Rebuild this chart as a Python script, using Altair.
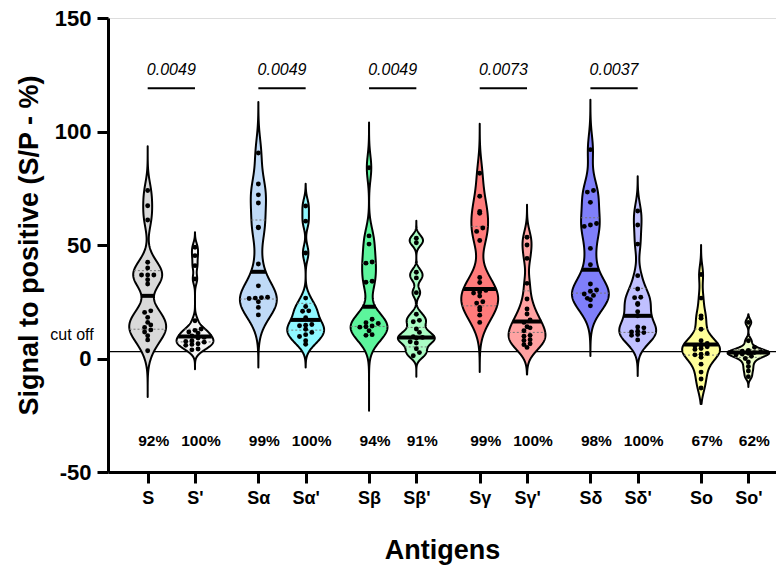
import json
import altair as alt
import pandas as pd

# ---------------- data ----------------
GROUPS = ["S", "S'", "Sα", "Sα'", "Sβ", "Sβ'", "Sγ", "Sγ'", "Sδ", "Sδ'", "So", "So'"]

S_VALUES = [74.0, 67.3, 61.0, 42.4, 39.9, 36.8, 36.8, 36.8, 34.7, 32.8,
            21.0, 20.3, 18.1, 15.9, 14.8, 13.7, 12.6, 11.7, 10.0, 8.2, 3.4]
S1_VALUES = [49.0, 45.3, 40.9, 35.0, 16.6, 13.0, 12.4, 11.7, 11.2, 9.9, 9.3, 9.0,
             7.8, 7.5, 7.2, 6.5, 6.2, 5.8, 4.2, 3.8]
SA_VALUES = [90.5, 76.9, 72.1, 68.5, 57.8, 57.6, 41.6, 32.0, 27.0, 26.8, 26.6,
             26.4, 25.0, 22.5, 19.2]
SA1_VALUES = [67.2, 60.5, 46.5, 26.6, 22.9, 21.0, 20.8, 18.0, 15.0, 14.7, 14.4,
              12.9, 11.5, 10.5, 9.7, 7.8, 6.3]
SB_VALUES = [84.0, 54.0, 50.4, 42.5, 42.0, 34.0, 33.6, 17.3, 15.8, 15.4, 14.3,
             14.0, 13.8, 12.2, 10.5, 10.2]
SB1_VALUES = [53.0, 51.0, 38.0, 35.5, 29.0, 19.5, 16.8, 16.2, 13.0, 11.5, 9.6,
              9.3, 9.0, 7.4, 6.8, 4.3, 2.6, 1.2]
SG_VALUES = [81.6, 71.5, 64.8, 64.0, 57.5, 56.0, 52.0, 35.7, 33.5, 30.0, 29.3,
             28.8, 27.5, 25.0, 24.4, 22.5, 21.4, 19.1, 15.9]
SG1_VALUES = [53.4, 50.0, 44.1, 33.1, 26.2, 21.8, 19.6, 17.0, 15.9, 14.0, 13.5,
              12.2, 10.2, 9.8, 8.3, 7.9, 6.5, 6.1, 4.9]
SD_VALUES = [92.0, 74.0, 73.3, 68.8, 59.5, 58.8, 58.2, 48.5, 41.3, 32.8, 30.2,
             29.6, 28.4, 27.8, 26.5, 25.9, 23.2]
SD1_VALUES = [65.0, 58.8, 50.4, 36.5, 30.6, 27.0, 26.8, 24.2, 23.8, 20.6, 18.8,
              13.9, 13.5, 12.0, 11.7, 11.4, 10.6, 10.2, 8.2]
SO_VALUES = [37.0, 26.6, 18.8, 17.7, 12.9, 7.8, 6.6, 5.8, 5.5, 5.2, 4.4, 4.0,
             2.2, 1.9, 1.6, 0.5, -2.5, -6.0, -9.0, -13.0]
SO1_VALUES = [15.9, 7.8, 5.0, 3.6, 3.2, 2.9, 2.6, 2.3, 2.0, 1.6, 1.0, 0.0,
              -1.5, -3.5, -5.5, -8.0]

ALL_VALUES = [S_VALUES, S1_VALUES, SA_VALUES, SA1_VALUES, SB_VALUES, SB1_VALUES,
              SG_VALUES, SG1_VALUES, SD_VALUES, SD1_VALUES, SO_VALUES, SO1_VALUES]

MEDIANS = [27.6, 9.7, 38.2, 17.0, 22.8, 9.3, 30.6, 16.3, 39.1, 18.8, 6.2, 2.6]
Q1 = [12.9, 7.3, 26.2, 12.5, 14.1, 5.1, 23.2, 11.5, 28.8, 11.5, 1.5, 0.5]
Q3 = [38.7, 12.9, 61.0, 24.3, 42.0, 13.7, 58.2, 29.8, 62.0, 30.9, 13.0, 4.0]
TAIL_LO = [-17.0, -4.7, -4.0, -4.0, -23.0, -8.0, -6.0, -7.0, 1.1, -7.7, -20.0, -12.6]
TAIL_HI = [93.5, 55.6, 113.0, 77.0, 104.0, 60.7, 103.4, 67.7, 114.0, 80.3, 50.0, 19.5]
BANDWIDTH = [5.0, 2.2, 7.0, 3.3, 5.5, 2.0, 6.5, 4.3, 6.5, 4.8, 4.0, 1.4]
COLORS = ["#d9d9d9", "#f4f4f4", "#bfdaf7", "#8ff8ff", "#5cf59c", "#aafcc4",
          "#ff7b7b", "#ffa2a2", "#7f7ffa", "#c0c0ff", "#ffff99", "#eeffc8"]
PERCENTS = ["92%", "100%", "99%", "100%", "94%", "91%", "99%", "100%", "98%", "100%", "67%", "62%"]
PVALUES = ["0.0049", "0.0049", "0.0049", "0.0073", "0.0037"]
CUTOFF = 3.0
Y_TICKS = [-50, 0, 50, 100, 150]

# ---------------- layout constants ----------------
PAIR_STEP = 2.34
POS = [(i // 2) * PAIR_STEP + (i % 2) for i in range(len(GROUPS))]
XMIN, XMAX = -0.839, 13.284
HALF_WIDTH = [0.39, 0.39, 0.39, 0.39, 0.39, 0.39, 0.39, 0.39, 0.39, 0.39, 0.40, 0.44]
DOT_GAP = 0.13
PCT_Y = -36.5
P_LINE_Y = 119
P_TEXT_Y = 127
FONT = "Liberation Sans"

pts = pd.DataFrame(
    [{"group": g, "pos": POS[i], "value": v} for i, g in enumerate(GROUPS) for v in ALL_VALUES[i]]
)

LABEL_EXPR = (
    f"{json.dumps(GROUPS, ensure_ascii=False)}"
    f"[2*floor(datum.value/{PAIR_STEP}+0.001) + round(datum.value - {PAIR_STEP}*floor(datum.value/{PAIR_STEP}+0.001))]"
)

XSC = alt.Scale(domain=[XMIN, XMAX], nice=False, zero=False)
YSC = alt.Scale(domain=[-50, 150], nice=False, zero=False)
XAX = alt.Axis(
    values=POS, labelExpr=LABEL_EXPR, title="Antigens", grid=False,
    domainWidth=3, domainColor="black", tickWidth=3, tickSize=11, tickColor="black",
    labelFont=FONT, labelFontSize=18, labelFontWeight="bold", labelColor="black",
    labelPadding=6, labelFlush=False, labelOverlap=False,
    titleFont=FONT, titleFontSize=27, titleFontWeight="bold", titleColor="black",
    titlePadding=30,
)
YAX = alt.Axis(
    values=Y_TICKS, labelExpr="'' + datum.value", title="Signal to positive (S/P - %)",
    grid=False, domainWidth=3, domainColor="black", tickWidth=3, tickSize=11,
    tickColor="black", labelFont=FONT, labelFontSize=22, labelFontWeight="bold",
    labelColor="black", labelPadding=6, labelFlush=False,
    titleFont=FONT, titleFontSize=27, titleFontWeight="bold", titleColor="black",
    titlePadding=11,
)


def X(field):
    return alt.X(f"{field}:Q", scale=XSC, axis=XAX)


def Y(field):
    return alt.Y(f"{field}:Q", scale=YSC, axis=YAX)


def group_base(i):
    return (
        alt.Chart(pts)
        .transform_filter(alt.FieldEqualPredicate(field="group", equal=GROUPS[i]))
        .transform_density(
            "value", as_=["value", "density"], bandwidth=BANDWIDTH[i],
            extent=[TAIL_LO[i], TAIL_HI[i]], steps=400,
        )
        .transform_joinaggregate(maxd="max(density)")
        .transform_calculate(hw=f"datum.density / datum.maxd * {HALF_WIDTH[i]}")
        .transform_calculate(xl=f"{POS[i]} - datum.hw", xr=f"{POS[i]} + datum.hw")
    )


def level_rule(i, level, **mark_kw):
    return (
        group_base(i)
        .transform_calculate(lv=f"{level}", dd=f"abs(datum.value - ({level}))")
        .transform_window(rk="row_number()", sort=[alt.SortField("dd", order="ascending")])
        .transform_filter("datum.rk == 1")
        .mark_rule(**mark_kw)
        .encode(x=X("xl"), x2=alt.X2("xr"), y=Y("lv"))
    )


areas, quarts, meds = [], [], []
for i in range(len(GROUPS)):
    areas.append(
        group_base(i)
        .mark_area(orient="horizontal", fill=COLORS[i], fillOpacity=1,
                   stroke="black", strokeWidth=2, strokeJoin="round")
        .encode(y=Y("value"), x=X("xl"), x2=alt.X2("xr"))
    )
    quarts.append(level_rule(i, Q1[i], color="#777777", strokeWidth=1, strokeDash=[2, 2]))
    quarts.append(level_rule(i, Q3[i], color="#777777", strokeWidth=1, strokeDash=[2, 2]))
    meds.append(level_rule(i, MEDIANS[i], color="black", strokeWidth=4))

points = (
    alt.Chart(pts)
    .transform_calculate(b="round(datum.value / 2.1)")
    .transform_window(rn="row_number()", groupby=["group", "b"],
                      sort=[alt.SortField("value", order="ascending")])
    .transform_joinaggregate(cnt="count()", groupby=["group", "b"])
    .transform_calculate(xp=f"datum.pos + (datum.rn - (datum.cnt + 1) / 2) * {DOT_GAP}")
    .mark_circle(size=24, color="black", opacity=1)
    .encode(x=X("xp"), y=Y("value"))
)

cut_line = (
    alt.Chart(pd.DataFrame({"c": [CUTOFF], "x0": [XMIN], "x1": [XMAX]}))
    .mark_rule(color="black", strokeWidth=1.3)
    .encode(x=X("x0"), x2=alt.X2("x1"), y=Y("c"))
)
cut_text = (
    alt.Chart(pd.DataFrame({"c": [CUTOFF], "t": ["cut off"]}))
    .mark_text(font=FONT, fontSize=16, color="black", dy=-17, align="center")
    .encode(x=alt.value(-36), y=Y("c"), text="t:N")
)

pct_df = pd.DataFrame({"pos": POS, "pct": PERCENTS, "py": [PCT_Y] * len(POS)})
pct_text = (
    alt.Chart(pct_df)
    .mark_text(font=FONT, fontSize=15.5, fontWeight="bold", color="black", dx=6)
    .encode(x=X("pos"), y=Y("py"), text="pct:N")
)

pv_df = pd.DataFrame({
    "a": [POS[2 * k] for k in range(len(PVALUES))],
    "b": [POS[2 * k + 1] for k in range(len(PVALUES))],
    "p": PVALUES,
    "ly": [P_LINE_Y] * len(PVALUES),
    "ty": [P_TEXT_Y] * len(PVALUES),
})
pv_lines = (
    alt.Chart(pv_df).mark_rule(color="black", strokeWidth=2)
    .encode(x=X("a"), x2=alt.X2("b"), y=Y("ly"))
)
pv_text = (
    alt.Chart(pv_df).transform_calculate(m="(datum.a + datum.b) / 2")
    .mark_text(font=FONT, fontSize=16, fontStyle="italic", color="black")
    .encode(x=X("m"), y=Y("ty"), text="p:N")
)

chart = (
    alt.layer(cut_line, *areas, *quarts, *meds, points, cut_text, pct_text, pv_lines, pv_text)
    .properties(
        width=668, height=454,
        padding={"left": 108, "top": 18, "right": 0, "bottom": 96},
        autosize=alt.AutoSizeParams(type="none"),
    )
    .configure_view(stroke=None)
    .configure(background="white")
)

chart.save("out.html", embed_options={"renderer": "svg", "actions": False})
